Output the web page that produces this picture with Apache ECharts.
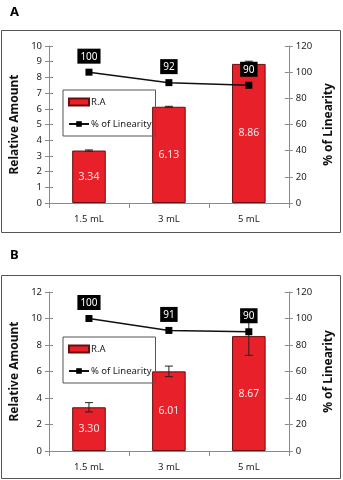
<!DOCTYPE html>
<html><head><meta charset="utf-8">
<script src="https://cdn.jsdelivr.net/npm/echarts@6/dist/echarts.min.js"></script>
<style>html,body{margin:0;padding:0;background:#fff}#c{width:343px;height:480px}</style>
</head><body><div id="c"></div>
<script>
const categories = ['1.5 mL', '3 mL', '5 mL'];
// Panel A
const raA = [3.34, 6.13, 8.86];
const errA = [0.04, 0.03, 0.17];
const linA = [100, 92, 90];
const leftTicksA = [0, 1, 2, 3, 4, 5, 6, 7, 8, 9, 10];
// Panel B
const raB = [3.30, 6.01, 8.67];
const errB = [0.35, 0.40, 1.45];
const linB = [100, 91, 90];
const leftTicksB = [0, 2, 4, 6, 8, 10, 12];
const rightTicks = [0, 20, 40, 60, 80, 100, 120];

const FONT = 'Noto Sans';
const axisCol = '#8a8a8a';

function yAx(ticks, gi, pos, name, withLabels) {
  return {
    type: 'value', gridIndex: gi, position: pos,
    min: ticks[0], max: ticks[ticks.length - 1], interval: ticks[1] - ticks[0],
    name: withLabels ? name : '', nameLocation: 'middle', nameRotate: 90,
    nameGap: pos === 'left' ? 24 : 30,
    nameTextStyle: { fontFamily: FONT, fontSize: 12, fontWeight: 'bold', color: '#111' },
    splitLine: { show: false },
    axisLine: { show: withLabels, lineStyle: { color: axisCol, width: 1 } },
    axisTick: { show: true, inside: !withLabels, length: 4, lineStyle: { color: axisCol } },
    axisLabel: { show: withLabels, fontFamily: FONT, fontSize: 9.5, color: '#222', margin: 7 }
  };
}
function xAx(gi) {
  return {
    type: 'category', gridIndex: gi, data: categories, boundaryGap: true,
    axisLine: { lineStyle: { color: axisCol } },
    axisTick: { show: true, length: 5, interval: 0, lineStyle: { color: axisCol } },
    axisLabel: { fontFamily: FONT, fontSize: 9.5, color: '#222', margin: 11 },
    splitLine: { show: false }
  };
}
function errSeries(vals, errs, xi, yi) {
  return {
    type: 'custom', xAxisIndex: xi, yAxisIndex: yi, z: 3, silent: true,
    data: vals.map((v, i) => [i, v, errs[i]]),
    renderItem: function (params, api) {
      const x = api.value(0), v = api.value(1), e = api.value(2);
      const t = api.coord([x, v + e]), b = api.coord([x, v - e]);
      const w = 4, st = { stroke: '#222', lineWidth: 1 };
      return { type: 'group', children: [
        { type: 'line', shape: { x1: t[0], y1: t[1], x2: b[0], y2: b[1] }, style: st },
        { type: 'line', shape: { x1: t[0] - w, y1: t[1], x2: t[0] + w, y2: t[1] }, style: st },
        { type: 'line', shape: { x1: b[0] - w, y1: b[1], x2: b[0] + w, y2: b[1] }, style: st }
      ]};
    }
  };
}
function barSeries(vals, xi, yi) {
  return {
    name: 'R.A', type: 'bar', xAxisIndex: xi, yAxisIndex: yi, data: vals, barWidth: '42%', z: 2,
    itemStyle: { color: '#e8202a', borderColor: '#6b0d0d', borderWidth: 1 },
    label: { show: true, position: 'inside', color: '#ffe6e6', fontFamily: FONT, fontSize: 10.5,
      formatter: p => p.value.toFixed(2) }
  };
}
function lineSeries(vals, xi, yi) {
  return {
    name: '% of Linearity', type: 'line', xAxisIndex: xi, yAxisIndex: yi, data: vals, z: 5,
    symbol: 'rect', symbolSize: 7, itemStyle: { color: '#000' },
    lineStyle: { color: '#111', width: 1.5 },
    label: { show: true, position: 'top', distance: 5, color: '#fff', backgroundColor: '#000',
      padding: [3, 3, 2, 3], fontFamily: FONT, fontSize: 10 }
  };
}
function legend(top) {
  return {
    left: 63, top: top, orient: 'vertical', itemWidth: 20, itemHeight: 7, itemGap: 12,
    borderColor: '#555', borderWidth: 1, padding: [7, 4, 7, 5],
    textStyle: { fontFamily: FONT, fontSize: 9.5, color: '#222', padding: [0, 0, 0, -3] },
    data: [{ name: 'R.A', icon: 'rect' }, { name: '% of Linearity' }]
  };
}

const chart = echarts.init(document.getElementById('c'), null, { renderer: 'canvas' });
chart.setOption({
  animation: false,
  graphic: [
    { type: 'text', left: 10, top: 6, style: { text: 'A', fontFamily: FONT, fontSize: 13, fontWeight: 'bold', fill: '#000' } },
    { type: 'text', left: 10, top: 249, style: { text: 'B', fontFamily: FONT, fontSize: 13, fontWeight: 'bold', fill: '#000' } },
    { type: 'rect', shape: { x: 1.5, y: 30.5, width: 339, height: 202 }, style: { fill: 'none', stroke: '#555', lineWidth: 1 }, z: -1 },
    { type: 'rect', shape: { x: 1.5, y: 275.5, width: 339, height: 203 }, style: { fill: 'none', stroke: '#555', lineWidth: 1 }, z: -1 }
  ],
  grid: [
    { left: 49, right: 44, top: 46, bottom: 277 },
    { left: 49, right: 45, top: 292, bottom: 29 }
  ],
  legend: [legend(90), legend(337)],
  xAxis: [xAx(0), xAx(1)],
  yAxis: [
    yAx(leftTicksA, 0, 'left', 'Relative Amount', true),
    yAx(rightTicks, 0, 'right', '% of Linearity', true),
    yAx(leftTicksB, 1, 'left', 'Relative Amount', true),
    yAx(rightTicks, 1, 'right', '% of Linearity', true),
    yAx(leftTicksA, 0, 'left', '', false),
    yAx(rightTicks, 0, 'right', '', false),
    yAx(leftTicksB, 1, 'left', '', false),
    yAx(rightTicks, 1, 'right', '', false)
  ],
  series: [
    barSeries(raA, 0, 0), errSeries(raA, errA, 0, 0), lineSeries(linA, 0, 1),
    barSeries(raB, 1, 2), errSeries(raB, errB, 1, 2), lineSeries(linB, 1, 3)
  ]
});
</script></body></html>
